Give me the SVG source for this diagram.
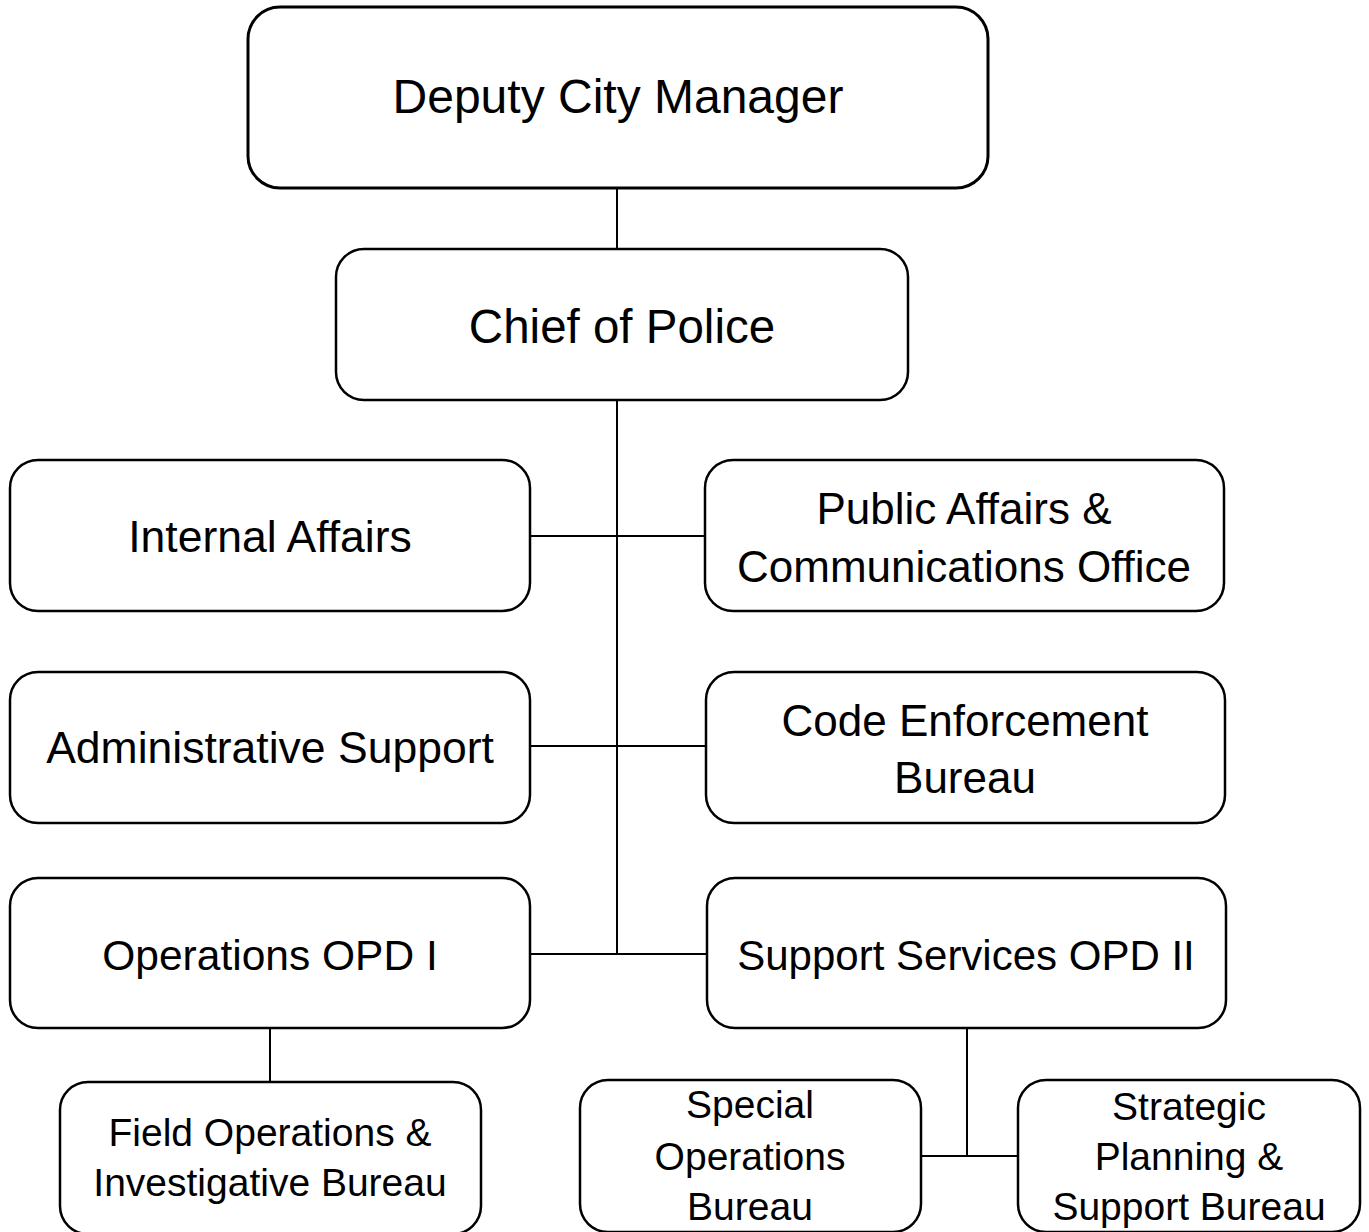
<svg xmlns="http://www.w3.org/2000/svg" width="1369" height="1232" viewBox="0 0 1369 1232">
<style>
  .box { fill: #ffffff; stroke: #000000; stroke-width: 2.5; }
  .t { font-family: "Liberation Sans", Arial, sans-serif; fill: #000000; text-anchor: middle; }
  .conn line { stroke: #000000; stroke-width: 2; }
</style>
<rect width="1369" height="1232" fill="#ffffff"/>
<g id="connectors" class="conn">
  <line x1="617" y1="188" x2="617" y2="249"/>
  <line x1="617" y1="400" x2="617" y2="954"/>
  <line x1="530" y1="536" x2="705" y2="536"/>
  <line x1="530" y1="746" x2="706" y2="746"/>
  <line x1="530" y1="954" x2="707" y2="954"/>
  <line x1="270" y1="1028" x2="270" y2="1082"/>
  <line x1="967" y1="1028" x2="967" y2="1156"/>
  <line x1="921" y1="1156" x2="1018" y2="1156"/>
</g>
<g id="deputy-city-manager">
  <rect class="box" x="248" y="7" width="740" height="181" rx="32" ry="32" style="stroke-width:3"/>
  <text class="t" x="618" y="113" font-size="48">Deputy City Manager</text>
</g>
<g id="chief-of-police">
  <rect class="box" x="336" y="249" width="572" height="151" rx="28" ry="28"/>
  <text class="t" x="622" y="343" font-size="47.5">Chief of Police</text>
</g>
<g id="internal-affairs">
  <rect class="box" x="10" y="460" width="520" height="151" rx="28" ry="28"/>
  <text class="t" x="270" y="552" font-size="44.5">Internal Affairs</text>
</g>
<g id="public-affairs">
  <rect class="box" x="705" y="460" width="519" height="151" rx="28" ry="28"/>
  <text class="t" x="964" y="524" font-size="44">Public Affairs &amp;</text>
  <text class="t" x="964" y="582" font-size="44">Communications Office</text>
</g>
<g id="administrative-support">
  <rect class="box" x="10" y="672" width="520" height="151" rx="28" ry="28"/>
  <text class="t" x="270" y="763" font-size="44.5">Administrative Support</text>
</g>
<g id="code-enforcement">
  <rect class="box" x="706" y="672" width="519" height="151" rx="28" ry="28"/>
  <text class="t" x="965" y="736" font-size="44">Code Enforcement</text>
  <text class="t" x="965" y="793" font-size="44">Bureau</text>
</g>
<g id="operations-opd-i">
  <rect class="box" x="10" y="878" width="520" height="150" rx="28" ry="28"/>
  <text class="t" x="270" y="970" font-size="42.5">Operations OPD I</text>
</g>
<g id="support-services-opd-ii">
  <rect class="box" x="707" y="878" width="519" height="150" rx="28" ry="28"/>
  <text class="t" x="966" y="970" font-size="42">Support Services OPD II</text>
</g>
<g id="field-operations">
  <rect class="box" x="60" y="1082" width="421" height="152" rx="28" ry="28"/>
  <text class="t" x="270" y="1146" font-size="39">Field Operations &amp;</text>
  <text class="t" x="270" y="1196" font-size="39">Investigative Bureau</text>
</g>
<g id="special-operations">
  <rect class="box" x="580" y="1080" width="341" height="152" rx="28" ry="28"/>
  <text class="t" x="750" y="1118" font-size="39">Special</text>
  <text class="t" x="750" y="1170" font-size="39">Operations</text>
  <text class="t" x="750" y="1220" font-size="39">Bureau</text>
</g>
<g id="strategic-planning">
  <rect class="box" x="1018" y="1080" width="342" height="152" rx="28" ry="28"/>
  <text class="t" x="1189" y="1120" font-size="39">Strategic</text>
  <text class="t" x="1189" y="1170" font-size="39">Planning &amp;</text>
  <text class="t" x="1189" y="1220" font-size="39">Support Bureau</text>
</g>
</svg>
